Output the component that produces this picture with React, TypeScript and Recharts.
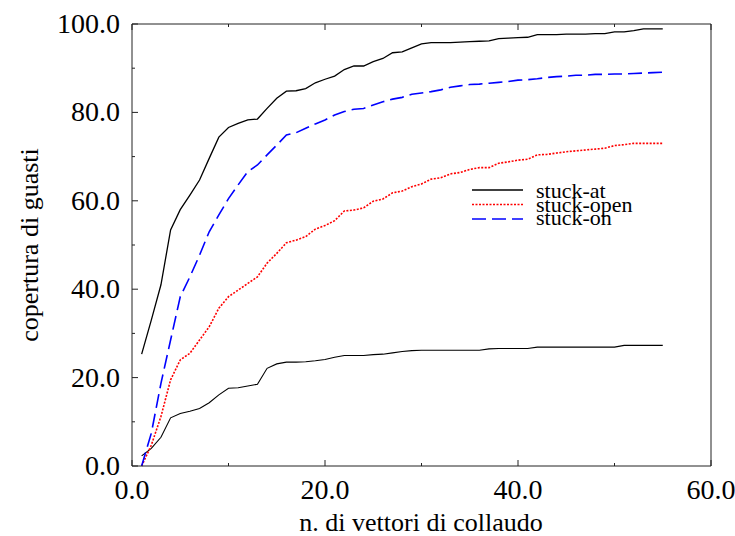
import { LineChart, Line, XAxis, YAxis, Label } from "recharts"

const steps = Array.from({ length: 55 }, (_, i) => i + 1)

const stuckAt = [
  25.3, 33.0, 41.0, 53.4, 58.0, 61.3, 64.7, 69.6, 74.4, 76.6,
  77.5, 78.3, 78.5, 80.9, 83.2, 84.8, 84.9, 85.4, 86.7, 87.5,
  88.2, 89.7, 90.5, 90.5, 91.5, 92.2, 93.5, 93.7, 94.6, 95.5,
  95.8, 95.8, 95.8, 95.9, 96.0, 96.1, 96.2, 96.7, 96.8, 96.9,
  97.0, 97.6, 97.6, 97.6, 97.7, 97.7, 97.7, 97.8, 97.8, 98.2,
  98.2, 98.5, 98.9, 98.9, 98.9,
]

const stuckAtLow = [
  2.3, 4.0, 6.5, 10.9, 11.9, 12.4, 13.0, 14.3, 16.1, 17.6,
  17.7, 18.1, 18.5, 22.1, 23.1, 23.5, 23.5, 23.6, 23.8, 24.1,
  24.6, 25.0, 25.0, 25.0, 25.2, 25.3, 25.6, 25.9, 26.1, 26.2,
  26.2, 26.2, 26.2, 26.2, 26.2, 26.2, 26.5, 26.6, 26.6, 26.6,
  26.6, 26.9, 26.9, 26.9, 26.9, 26.9, 26.9, 26.9, 26.9, 26.9,
  27.3, 27.3, 27.3, 27.3, 27.3,
]

const stuckOpen = [
  0.0, 4.7, 11.2, 19.5, 24.0, 25.5, 28.5, 31.5, 35.7, 38.3,
  39.8, 41.3, 42.8, 45.9, 48.1, 50.5, 51.1, 51.9, 53.6, 54.4,
  55.5, 57.7, 57.9, 58.4, 59.9, 60.4, 61.8, 62.2, 63.2, 63.8,
  64.9, 65.2, 66.1, 66.4, 67.1, 67.5, 67.5, 68.5, 68.8, 69.2,
  69.4, 70.4, 70.5, 70.8, 71.1, 71.3, 71.5, 71.7, 71.9, 72.5,
  72.7, 73.0, 73.0, 73.0, 73.0,
]

const stuckOn = [
  0.0, 7.4, 18.7, 28.5, 38.3, 42.8, 47.7, 53.0, 56.8, 60.5,
  63.6, 66.6, 68.1, 70.4, 72.6, 74.9, 75.4, 76.4, 77.4, 78.3,
  79.4, 80.2, 80.7, 80.9, 81.7, 82.4, 83.0, 83.4, 84.1, 84.4,
  84.7, 85.1, 85.7, 86.0, 86.3, 86.4, 86.6, 86.8, 87.0, 87.3,
  87.4, 87.6, 87.9, 88.1, 88.2, 88.4, 88.4, 88.6, 88.6, 88.7,
  88.7, 88.8, 88.9, 89.0, 89.1,
]

const xTicks = [0, 10, 20, 30, 40, 50, 60]
const yTicks = [0, 10, 20, 30, 40, 50, 60, 70, 80, 90, 100]

const data = steps.map((x, i) => ({
  x,
  stuckAt: stuckAt[i],
  stuckAtLow: stuckAtLow[i],
  stuckOpen: stuckOpen[i],
  stuckOn: stuckOn[i],
}))

const FONT = "Liberation Serif, Times New Roman, Times, serif"
const AXIS = "#222"

const isMajor = (v: number) => v % 20 === 0

const BottomTick = ({ x, y, payload }: any) => {
  const len = isMajor(payload.value) ? 6 : 3
  return (
    <g>
      <line x1={x} x2={x} y1={y} y2={y - len} stroke={AXIS} />
      {isMajor(payload.value) && (
        <text x={x} y={y + 33} textAnchor="middle" fontFamily={FONT} fontSize={28} fill="#000">
          {payload.value.toFixed(1)}
        </text>
      )}
    </g>
  )
}

const TopTick = ({ x, y, payload }: any) => {
  const len = isMajor(payload.value) ? 6 : 3
  return <line x1={x} x2={x} y1={y} y2={y + len} stroke={AXIS} />
}

const LeftTick = ({ x, y, payload }: any) => {
  const len = isMajor(payload.value) ? 6 : 3
  return (
    <g>
      <line x1={x} x2={x + len} y1={y} y2={y} stroke={AXIS} />
      {isMajor(payload.value) && (
        <text x={x - 12} y={y + 9} textAnchor="end" fontFamily={FONT} fontSize={28} fill="#000">
          {payload.value.toFixed(1)}
        </text>
      )}
    </g>
  )
}

const RightTick = ({ x, y, payload }: any) => {
  const len = isMajor(payload.value) ? 6 : 3
  return <line x1={x} x2={x - len} y1={y} y2={y} stroke={AXIS} />
}

const legendItems = [
  { name: "stuck-at", color: "#000", dash: undefined, width: 1.6 },
  { name: "stuck-open", color: "#ff0000", dash: "2 1.5", width: 1.6 },
  { name: "stuck-on", color: "#0000ff", dash: "14 6", width: 1.6 },
]

export default function App() {
  return (
    <div style={{ position: "absolute", left: 0, top: 0, width: 735, height: 536, background: "#fff" }}>
      <LineChart width={735} height={536} data={data} margin={{ top: 23, right: 23, bottom: 69, left: 131 }}>
        <XAxis
          dataKey="x"
          type="number"
          domain={[0, 60]}
          ticks={xTicks}
          height={1}
          tickSize={0}
          tickMargin={0}
          tickLine={false}
          tick={BottomTick}
          stroke={AXIS}
          interval={0}
        >
          <Label
            content={() => (
              <text x={421} y={531} textAnchor="middle" fontFamily={FONT} fontSize={26} fill="#000">
                n. di vettori di collaudo
              </text>
            )}
          />
        </XAxis>
        <XAxis
          xAxisId="top"
          orientation="top"
          dataKey="x"
          type="number"
          domain={[0, 60]}
          ticks={xTicks}
          height={1}
          tickSize={0}
          tickMargin={0}
          tickLine={false}
          tick={TopTick}
          stroke={AXIS}
          interval={0}
        />
        <YAxis
          type="number"
          domain={[0, 100]}
          ticks={yTicks}
          width={1}
          tickSize={0}
          tickMargin={0}
          tickLine={false}
          tick={LeftTick}
          stroke={AXIS}
          interval={0}
        >
          <Label
            content={() => (
              <text
                x={38}
                y={245}
                transform="rotate(-90, 38, 245)"
                textAnchor="middle"
                fontFamily={FONT}
                fontSize={26}
                fill="#000"
              >
                copertura di guasti
              </text>
            )}
          />
        </YAxis>
        <YAxis
          yAxisId="right"
          orientation="right"
          type="number"
          domain={[0, 100]}
          ticks={yTicks}
          width={1}
          tickSize={0}
          tickMargin={0}
          tickLine={false}
          tick={RightTick}
          stroke={AXIS}
          interval={0}
        />
        <Line dataKey="stuckAt" stroke="#000" strokeWidth={1.3} dot={false} isAnimationActive={false} />
        <Line dataKey="stuckAtLow" stroke="#000" strokeWidth={1.1} dot={false} isAnimationActive={false} />
        <Line
          dataKey="stuckOpen"
          stroke="#ff0000"
          strokeWidth={1.6}
          strokeDasharray="2 1.5"
          dot={false}
          isAnimationActive={false}
        />
        <Line
          dataKey="stuckOn"
          stroke="#0000ff"
          strokeWidth={1.6}
          strokeDasharray="14 6"
          dot={false}
          isAnimationActive={false}
        />
      </LineChart>
      <svg width={735} height={536} style={{ position: "absolute", left: 0, top: 0, pointerEvents: "none" }}>
        {legendItems.map((d, i) => (
          <g key={d.name}>
            <line
              x1={472}
              x2={523}
              y1={190 + i * 14.5}
              y2={190 + i * 14.5}
              stroke={d.color}
              strokeWidth={d.width}
              strokeDasharray={d.dash}
            />
            <text x={536} y={198 + i * 13.5} fontFamily={FONT} fontSize={22} fill="#000">
              {d.name}
            </text>
          </g>
        ))}
      </svg>
    </div>
  )
}
